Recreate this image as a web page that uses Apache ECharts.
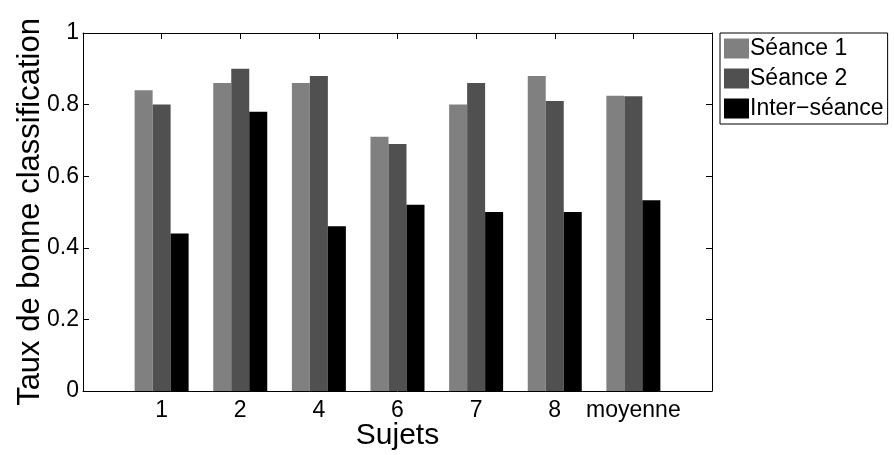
<!DOCTYPE html>
<html>
<head>
<meta charset="utf-8">
<script src="https://cdn.jsdelivr.net/npm/echarts@6/dist/echarts.min.js"></script>
<style>
  html, body { margin: 0; padding: 0; background: #fff; }
  #chart { width: 894px; height: 455px; }
</style>
</head>
<body>
<div id="chart"></div>
<script>
var categories = ['1', '2', '4', '6', '7', '8', 'moyenne'];
var seance1 = [0.84, 0.86, 0.86, 0.71, 0.80, 0.88, 0.825];
var seance2 = [0.80, 0.90, 0.88, 0.69, 0.86, 0.81, 0.823];
var interSeance = [0.44, 0.78, 0.46, 0.52, 0.50, 0.50, 0.533];
var yTicks = [0, 0.2, 0.4, 0.6, 0.8, 1];

var font = "'Liberation Sans', Arial, sans-serif";

function toPoints(values) {
  var out = [];
  for (var i = 0; i < values.length; i++) {
    out.push([i + 1, values[i]]);
  }
  return out;
}

function catLabel(v) {
  var idx = Math.round(v) - 1;
  if (idx < 0 || idx >= categories.length) return '';
  return categories[idx];
}

var chart = echarts.init(document.getElementById('chart'));

var frameLine = {show: true, onZero: false, lineStyle: {color: '#000', width: 1}};
var tick = {show: true, inside: true, length: 6, lineStyle: {color: '#000'}};

var option = {
  animation: false,
  backgroundColor: '#fff',
  grid: {left: 83, right: 182, top: 33, bottom: 64, containLabel: false, outerBoundsMode: 'none'},
  legend: {
    orient: 'vertical',
    left: 720,
    top: 33,
    padding: [4, 4, 4, 4],
    icon: 'rect',
    itemWidth: 25,
    itemHeight: 20,
    itemGap: 7,
    itemStyle: {borderWidth: 0},
    borderColor: '#000',
    borderWidth: 1,
    textStyle: {fontFamily: font, fontSize: 23, color: '#000', padding: [0, 0, 0, -4]},
    data: ['Séance 1', 'Séance 2', 'Inter−séance']
  },
  xAxis: [{
    type: 'value',
    min: 0,
    max: 8,
    interval: 1,
    name: 'Sujets',
    nameLocation: 'middle',
    nameGap: 30,
    nameMoveOverlap: false,
    nameTextStyle: {fontFamily: font, fontSize: 30, color: '#000'},
    axisLine: frameLine,
    axisTick: {show: false},
    splitLine: {show: false},
    axisLabel: {
      margin: 8,
      fontFamily: font,
      fontSize: 23,
      color: '#000',
      formatter: catLabel
    }
  }, {
    type: 'value',
    position: 'top',
    min: 0,
    max: 8,
    interval: 1,
    axisLine: frameLine,
    axisTick: tick,
    axisLabel: {show: false},
    splitLine: {show: false}
  }],
  yAxis: [{
    type: 'value',
    min: 0,
    max: 1,
    interval: 0.2,
    name: 'Taux de bonne classification',
    nameLocation: 'middle',
    nameGap: 37,
    nameMoveOverlap: false,
    nameTextStyle: {fontFamily: font, fontSize: 31, color: '#000'},
    axisLine: frameLine,
    axisTick: tick,
    splitLine: {show: false},
    axisLabel: {
      margin: 4,
      fontFamily: font,
      fontSize: 23,
      color: '#000',
      formatter: function (v) {
        return yTicks.indexOf(Math.round(v * 10) / 10) >= 0 ? String(Math.round(v * 10) / 10) : '';
      }
    }
  }, {
    type: 'value',
    position: 'right',
    min: 0,
    max: 1,
    interval: 0.2,
    axisLine: frameLine,
    axisTick: tick,
    axisLabel: {show: false},
    splitLine: {show: false}
  }],
  series: [
    {
      name: 'Séance 1',
      type: 'bar',
      barWidth: 18,
      barGap: '0%',
      itemStyle: {color: '#808080'},
      data: toPoints(seance1)
    },
    {
      name: 'Séance 2',
      type: 'bar',
      barWidth: 18,
      barGap: '0%',
      itemStyle: {color: '#505050'},
      data: toPoints(seance2)
    },
    {
      name: 'Inter−séance',
      type: 'bar',
      barWidth: 18,
      barGap: '0%',
      itemStyle: {color: '#000000'},
      data: toPoints(interSeance)
    }
  ]
};

chart.setOption(option);
</script>
</body>
</html>
